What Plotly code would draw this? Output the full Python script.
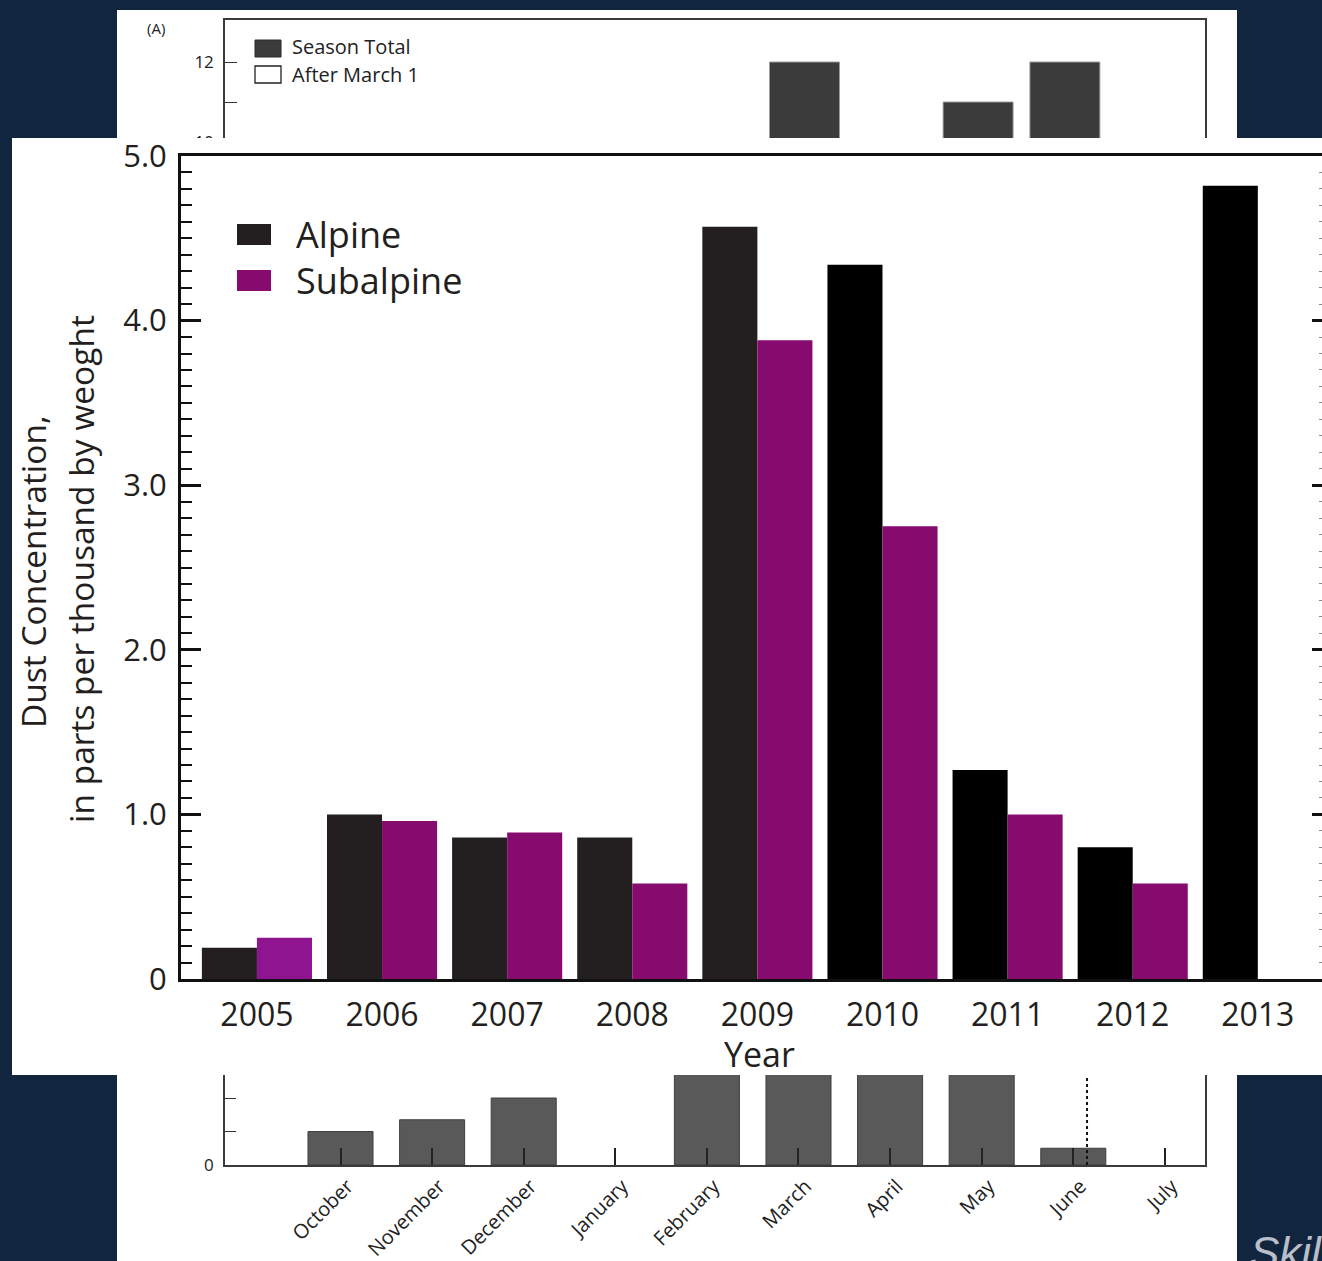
import plotly.graph_objects as go

W, H = 1322, 1261
NAVY = "#12253f"
INK = "#231f20"
FONT = "Open Sans, Lato, sans-serif"

# ---- Panel (A): monthly dust events (season total), upper and lower views
months = ["October", "November", "December", "January", "February",
          "March", "April", "May", "June", "July"]
upper_months = ["March", "May", "June"]
upper_totals = [12.0, 11.0, 12.0]
lower_totals = [1.0, 1.35, 2.0, None, 6.5, 8.0, 7.0, 5.5, 0.5, None]
melt_out_pos = 8.15  # dotted marker position, in month-index units

# ---- Panel (B): dust concentration by year
years = ["2005", "2006", "2007", "2008", "2009", "2010", "2011", "2012", "2013"]
alpine = [0.19, 1.00, 0.86, 0.86, 4.57, 4.34, 1.27, 0.80, 4.82]
subalpine = [0.25, 0.96, 0.89, 0.58, 3.88, 2.75, 1.00, 0.58, None]
alpine_colors = [INK] * 5 + ["#000000"] * 4
subalpine_colors = ["#8f1490"] + ["#870a6f"] * 8


def fx(p):
    return p / W


def fy(p):
    return 1 - p / H


fig = go.Figure()

# Panel (A) bars
fig.add_trace(go.Bar(
    x=upper_months, y=upper_totals, width=0.806,
    marker=dict(color="#3b3b3b", line=dict(color="#9a9a9a", width=1)),
    xaxis="x", yaxis="y", hoverinfo="skip", showlegend=False))
fig.add_trace(go.Bar(
    x=months, y=lower_totals, width=0.71,
    marker=dict(color="#595959", line=dict(color="#3f3f3f", width=1)),
    xaxis="x2", yaxis="y2", hoverinfo="skip", showlegend=False))

# White card for panel (B), laid over panel (A)
fig.add_trace(go.Scatter(
    x=[0, 1, 1, 0, 0], y=[0, 0, 1, 1, 0], mode="lines", fill="toself",
    fillcolor="white", line=dict(width=0, color="white"),
    xaxis="x3", yaxis="y3", hoverinfo="skip", showlegend=False))

# Panel (B) bars (subalpine sits on the right-hand twin of the same scale)
fig.add_trace(go.Bar(
    name="Alpine", x=years, y=alpine, width=0.44, offset=-0.44,
    marker=dict(color=alpine_colors, line=dict(width=0)),
    xaxis="x4", yaxis="y4", showlegend=False))
fig.add_trace(go.Bar(
    name="Subalpine", x=years, y=subalpine, width=0.44, offset=0.0,
    marker=dict(color=subalpine_colors, line=dict(width=0)),
    xaxis="x4", yaxis="y5", showlegend=False))

a_line = dict(showline=True, linecolor="#3a3a3a", linewidth=1.5, mirror=True,
              showgrid=False, zeroline=False, automargin=False)

upper_ticks = list(range(4, 13))
lower_ticks = list(range(0, 14))
minor_b = [round(i / 10, 1) for i in range(1, 50) if i % 10]

fig.update_layout(
    width=W, height=H, margin=dict(l=0, r=0, t=0, b=0, pad=0),
    paper_bgcolor=NAVY, plot_bgcolor="rgba(0,0,0,0)",
    barmode="overlay", showlegend=False,
    font=dict(family=FONT, color=INK),
    xaxis=dict(domain=[fx(225), fx(1205)], anchor="y", type="category",
               categoryorder="array", categoryarray=months,
               range=[-1.676, 9.614], ticks="", showticklabels=False, **a_line),
    yaxis=dict(domain=[fy(400), fy(20)], anchor="x", range=[3.55, 13.05],
               tickmode="array", tickvals=upper_ticks,
               ticktext=[str(v) if v % 2 == 0 else "" for v in upper_ticks],
               ticks="inside", ticklen=12, tickwidth=1.3, tickcolor="#333",
               tickfont=dict(size=17, color="#222"), ticklabelstandoff=6,
               **a_line),
    xaxis2=dict(domain=[fx(225), fx(1205)], anchor="y2", type="category",
                categoryorder="array", categoryarray=months,
                range=[-1.261, 9.438], ticks="inside", ticklen=17,
                tickwidth=1.5, tickcolor="#222", tickangle=-45,
                ticklabelshift=7,
                tickfont=dict(size=20, color="#222"), **a_line),
    yaxis2=dict(domain=[fy(1165), fy(700)], anchor="x2", range=[0, 13.88],
                tickmode="array", tickvals=lower_ticks,
                ticktext=[str(v) if v % 4 == 0 else "" for v in lower_ticks],
                ticks="inside", ticklen=11, tickwidth=1.3, tickcolor="#333",
                tickfont=dict(size=17, color="#222"), ticklabelstandoff=6,
                **a_line),
    xaxis3=dict(domain=[fx(12), 1], anchor="y3", range=[0, 1], visible=False,
                automargin=False),
    yaxis3=dict(domain=[fy(1075), fy(138)], anchor="x3", range=[0, 1],
                visible=False, automargin=False),
    xaxis4=dict(domain=[fx(181), 1], anchor="y4", type="category",
                range=[-0.607, 8.513], showline=True, linecolor="#111",
                linewidth=3, mirror=True, ticks="", showgrid=False, zeroline=False,
                tickfont=dict(size=32, color=INK), ticklabelstandoff=6,
                automargin=False),
    yaxis4=dict(domain=[fy(979), fy(156)], anchor="x4", range=[0, 5.0],
                tickmode="array", tickvals=[0, 1, 2, 3, 4, 5],
                ticktext=["0", "1.0", "2.0", "3.0", "4.0", "5.0"],
                ticks="inside", ticklen=20, tickwidth=2.5, tickcolor="#111",
                minor=dict(tickmode="array", tickvals=minor_b, ticks="inside",
                           ticklen=11, tickwidth=2, tickcolor="#111"),
                showline=True, linecolor="#111", linewidth=3, mirror=False,
                showgrid=False, zeroline=False, automargin=False,
                tickfont=dict(size=31, color=INK), ticklabelstandoff=5),
    yaxis5=dict(overlaying="y4", side="right", anchor="x4", range=[0, 5.0],
                tickmode="array", tickvals=[1, 2, 3, 4],
                ticks="inside", ticklen=10, tickwidth=2.5, tickcolor="#111",
                minor=dict(tickmode="array", tickvals=minor_b, ticks="inside",
                           ticklen=3, tickwidth=1, tickcolor="#888"),
                showline=False, showticklabels=False, showgrid=False,
                zeroline=False, automargin=False),
)

shapes = [
    # white page behind panel (A)
    dict(type="rect", xref="paper", yref="paper", x0=fx(117), x1=fx(1237),
         y0=-0.01, y1=fy(10), fillcolor="white", line=dict(width=0), layer="below"),
    # dotted marker in June
    dict(type="line", xref="x2", yref="paper", x0=melt_out_pos, x1=melt_out_pos,
         y0=fy(1165), y1=fy(1075), line=dict(color="#111", width=2, dash="dot"),
         layer="above"),
    # panel (A) legend swatches
    dict(type="rect", xref="paper", yref="paper", x0=fx(255), x1=fx(281),
         y0=fy(57), y1=fy(40), fillcolor="#3b3b3b", line=dict(color="#2a2a2a", width=1),
         layer="above"),
    dict(type="rect", xref="paper", yref="paper", x0=fx(255), x1=fx(281),
         y0=fy(83), y1=fy(66), fillcolor="white", line=dict(color="#222", width=1.3),
         layer="above"),
    # panel (B) legend swatches
    dict(type="rect", xref="paper", yref="paper", x0=fx(237), x1=fx(271),
         y0=fy(245), y1=fy(224), fillcolor=INK, line=dict(width=0), layer="above"),
    dict(type="rect", xref="paper", yref="paper", x0=fx(237), x1=fx(271),
         y0=fy(291), y1=fy(270), fillcolor="#870a6f", line=dict(width=0), layer="above"),
]
fig.update_layout(shapes=shapes)


def note(text, x, y, size, color=INK, xanchor="center", angle=0):
    fig.add_annotation(text=text, x=fx(x), y=fy(y), xref="paper", yref="paper",
                       showarrow=False, xanchor=xanchor, yanchor="middle",
                       textangle=angle, font=dict(size=size, color=color, family=FONT))


note("(A)", 156, 28, 15, "#222")
note("Season Total", 290, 47, 20, "#222", xanchor="left")
note("After March 1", 290, 74, 20, "#222", xanchor="left")
note("Alpine", 294, 234, 36, xanchor="left")
note("Subalpine", 294, 280, 36, xanchor="left")
note("Dust Concentration,", 33, 572, 33.5, angle=-90)
note("in parts per thousand by weoght", 81, 569, 33.5, angle=-90)
note("Year", 760, 1054, 34)
fig.add_annotation(text="<i>Skills</i>", x=fx(1248), y=fy(1252), xref="paper",
                   yref="paper", showarrow=False, xanchor="left", yanchor="middle",
                   font=dict(size=44, color="#b9bfc8", family="Liberation Sans, Arial"))

fig.write_html("out.html")
